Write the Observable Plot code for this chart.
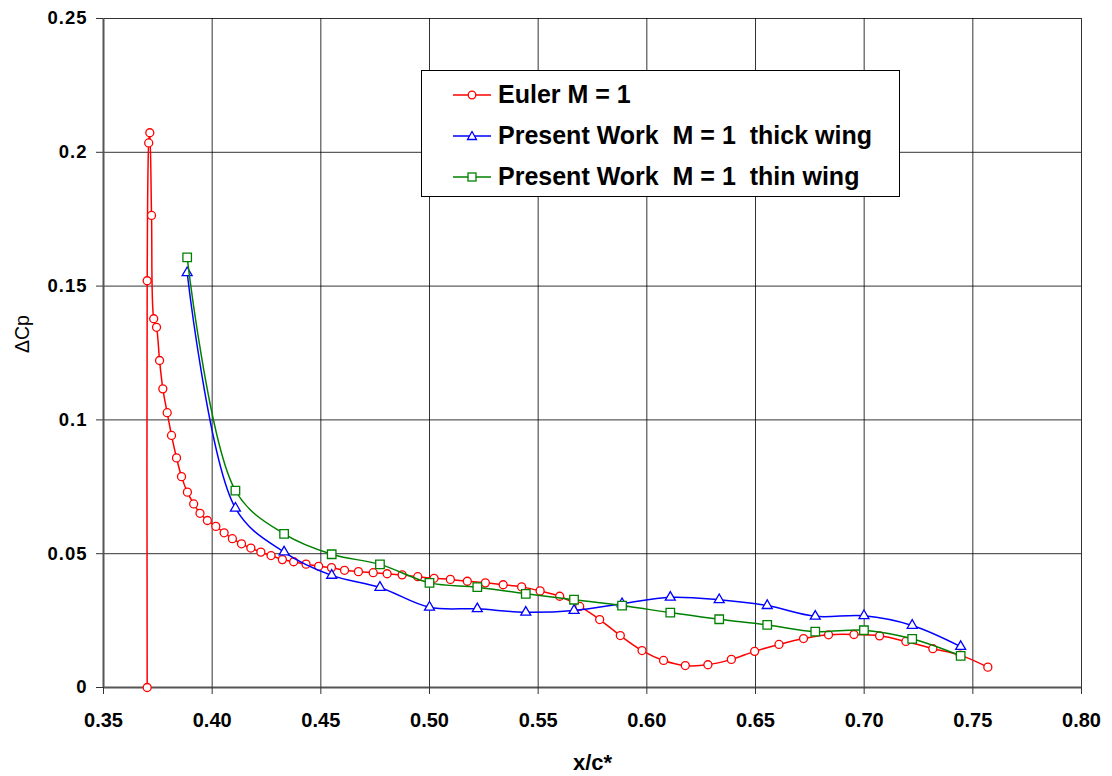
<!DOCTYPE html>
<html><head><meta charset="utf-8">
<script src="https://cdn.jsdelivr.net/npm/d3@7"></script>
<script src="https://cdn.jsdelivr.net/npm/@observablehq/plot@0.6"></script>
<style>
body{margin:0;background:#fff;}
#wrap{position:relative;width:1112px;height:776px;font-family:"Liberation Sans",Arial,sans-serif;}
#wrap > svg{position:absolute;left:0;top:0;}
g[aria-label="y-axis tick label"] text{letter-spacing:1px;}
#legend{position:absolute;left:421px;top:70px;width:477px;height:125px;border:1px solid #000;background:#fff;}
.row{position:absolute;left:31px;height:30px;display:flex;align-items:center;font-weight:bold;font-size:25px;color:#000;white-space:pre;}
.row svg{display:block;margin-right:6px;}
</style></head><body><div id="wrap"></div>
<script>
// Euler M = 1
const eulerX = [0.3701,0.3701,0.3708,0.3713,0.3721,0.3731,0.3744,0.3758,0.3773,0.3793,0.3813,0.3836,0.3859,0.3886,0.3915,0.3944,0.3978,0.4017,0.4055,0.4093,0.4135,0.4178,0.4224,0.4271,0.4323,0.4375,0.4432,0.4490,0.4549,0.4609,0.4673,0.4741,0.4805,0.4874,0.4946,0.5021,0.5096,0.5174,0.5257,0.5339,0.5424,0.5509,0.5599,0.5691,0.5783,0.5878,0.5978,0.6077,0.6177,0.6281,0.6389,0.6496,0.6608,0.6721,0.6836,0.6953,0.7071,0.7192,0.7316,0.7442,0.7569];
const eulerY = [0,0.1520,0.2035,0.2073,0.1764,0.1378,0.1346,0.1222,0.1116,0.1027,0.0942,0.0858,0.0788,0.0730,0.0686,0.0651,0.0624,0.0602,0.0578,0.0556,0.0537,0.0521,0.0506,0.0493,0.0478,0.0470,0.0461,0.0453,0.0448,0.0438,0.0433,0.0429,0.0425,0.0421,0.0414,0.0408,0.0404,0.0397,0.0391,0.0384,0.0376,0.0361,0.0341,0.0303,0.0254,0.0194,0.0138,0.0101,0.0082,0.0085,0.0105,0.0135,0.0161,0.0183,0.0197,0.0198,0.0193,0.0172,0.0145,0.0121,0.0076];
// Present Work (shared x positions)
const workX = [0.3885,0.4107,0.4331,0.4550,0.4772,0.5000,0.5220,0.5443,0.5665,0.5886,0.6108,0.6333,0.6554,0.6775,0.6999,0.7221,0.7444];
const thickY = [0.1550,0.0670,0.0506,0.0419,0.0374,0.0300,0.0294,0.0281,0.0288,0.0313,0.0337,0.0328,0.0306,0.0266,0.0268,0.0232,0.0153];
const thinY  = [0.1607,0.0736,0.0574,0.0498,0.0460,0.0391,0.0375,0.0350,0.0328,0.0306,0.0280,0.0255,0.0234,0.0209,0.0214,0.0182,0.0118];
const seriesNames = ["Euler M = 1","Present Work  M = 1  thick wing","Present Work  M = 1  thin wing"];
const xTicks = [0.35,0.40,0.45,0.50,0.55,0.60,0.65,0.70,0.75,0.80];
const yTicks = [0,0.05,0.1,0.15,0.2,0.25];

const euler = eulerX.map((x,i)=>({x, y:eulerY[i]}));
const thick = workX.map((x,i)=>({x, y:thickY[i]}));
const thin  = workX.map((x,i)=>({x, y:thinY[i]}));

const chart = Plot.plot({
  width:1112, height:776,
  marginLeft:103, marginRight:31, marginTop:18, marginBottom:89,
  style:{background:"transparent", fontFamily:"'Liberation Sans',Arial,sans-serif", color:"#000"},
  x:{domain:[0.35,0.80]},
  y:{domain:[0,0.25]},
  marks:[
    Plot.gridX(xTicks,{stroke:"#000", strokeOpacity:0.8, strokeWidth:1}),
    Plot.gridY(yTicks,{stroke:"#000", strokeOpacity:0.8, strokeWidth:1}),
    Plot.ruleX([0.35],{stroke:"#555", strokeWidth:2}),
    Plot.ruleY([0],{stroke:"#555", strokeWidth:2}),
    Plot.line(euler,{x:"x", y:"y", stroke:"#ff0000", strokeWidth:1.5, curve:"catmull-rom"}),
    Plot.dot(euler,{x:"x", y:"y", r:4, stroke:"#ff0000", fill:"white", strokeWidth:1.3}),
    Plot.line(thick,{x:"x", y:"y", stroke:"#0000ff", strokeWidth:1.5, curve:"catmull-rom"}),
    Plot.dot(thick,{x:"x", y:"y", symbol:"triangle", r:3.7, stroke:"#0000ff", fill:"white", strokeWidth:1.3}),
    Plot.line(thin,{x:"x", y:"y", stroke:"#008000", strokeWidth:1.5, curve:"catmull-rom"}),
    Plot.dot(thin,{x:"x", y:"y", symbol:"square", r:4.8, stroke:"#008000", fill:"white", strokeWidth:1.3}),
    Plot.axisX(xTicks,{tickSize:7, tickPadding:18, tickFormat:d3.format(".2f"), fontSize:20, fontWeight:"bold", label:null, stroke:"#333"}),
    Plot.axisY(yTicks,{tickSize:7, tickPadding:9, tickFormat:d=>String(d), fontSize:18.5, fontWeight:"bold", label:null, stroke:"#333"}),
    Plot.text(["x/c*"],{frameAnchor:"bottom", dy:75, lineAnchor:"middle", fontSize:22, fontWeight:"bold", fill:"#000"}),
    Plot.text(["ΔCp"],{frameAnchor:"left", dx:-81, rotate:-90, fontSize:19.5, fill:"#000"})
  ]
});
const wrap = document.getElementById("wrap");
wrap.appendChild(chart);

// legend overlay
const legend = document.createElement("div");
legend.id = "legend";
const colors = ["#ff0000","#0000ff","#008000"];
const symbols = [
  c=>`<circle cx="19" cy="10" r="3.8" fill="white" stroke="${c}" stroke-width="1.3"/>`,
  c=>`<path d="M19,5.5 L23.5,13.5 L14.5,13.5 Z" fill="white" stroke="${c}" stroke-width="1.3"/>`,
  c=>`<rect x="15" y="6" width="8" height="8" fill="white" stroke="${c}" stroke-width="1.3"/>`
];
const rowCenters = [23.5,64.5,105.5];
seriesNames.forEach((name,i)=>{
  const row = document.createElement("div");
  row.className = "row";
  row.style.top = (rowCenters[i]-15)+"px";
  row.innerHTML = `<svg width="39" height="20"><line x1="0" y1="10" x2="38" y2="10" stroke="${colors[i]}" stroke-width="1.5"/>${symbols[i](colors[i])}</svg><span>${name}</span>`;
  legend.appendChild(row);
});
wrap.appendChild(legend);
</script>
</body></html>
